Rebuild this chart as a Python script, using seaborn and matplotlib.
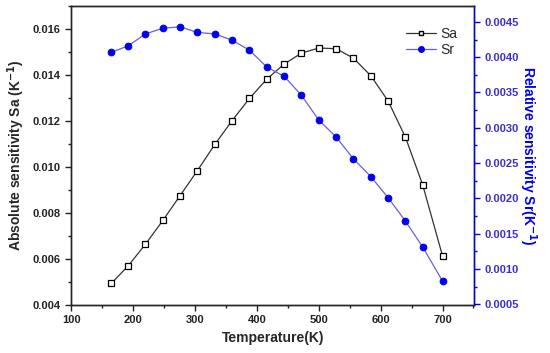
import matplotlib
matplotlib.use("Agg")
import matplotlib.pyplot as plt
import seaborn as sns
import pandas as pd
from matplotlib.ticker import MultipleLocator
from matplotlib.lines import Line2D

temperature = [165, 192, 220, 248, 276, 304, 332, 360, 388, 416,
               444, 472, 500, 528, 556, 584, 612, 640, 668, 700]
sa_values = [0.00494, 0.00570, 0.00664, 0.00767, 0.00875, 0.00984, 0.01097, 0.01201, 0.01297, 0.01381,
             0.01446, 0.01494, 0.01516, 0.01513, 0.01472, 0.01396, 0.01286, 0.01129, 0.00921, 0.00613]
sr_values = [0.00407, 0.00416, 0.00433, 0.00441, 0.00443, 0.00435, 0.00433, 0.00424, 0.00410, 0.00386,
             0.00373, 0.00346, 0.00311, 0.00287, 0.00256, 0.00231, 0.00201, 0.00168, 0.00131, 0.00083]

df = pd.DataFrame({"T": temperature, "Sa": sa_values, "Sr": sr_values})

sns.set_style("ticks")
plt.rcParams['font.family'] = ['Liberation Sans', 'DejaVu Sans']

fig = plt.figure(figsize=(5.5, 3.53), dpi=100)
ax = fig.add_axes([0.1295, 0.136, 0.7325, 0.848])
ax2 = ax.twinx()

blue = "#0000ee"
sr_line = "#6a5fd6"

sns.lineplot(data=df, x="T", y="Sa", ax=ax, color="#333333", lw=0.9,
             marker="s", markersize=4.2, markerfacecolor="white",
             markeredgecolor="black", markeredgewidth=0.9, zorder=3)
sns.lineplot(data=df, x="T", y="Sr", ax=ax2, color=sr_line, lw=0.9,
             marker="o", markersize=4.8, markerfacecolor=blue,
             markeredgecolor=blue, zorder=3)

ax.set_xlim(100, 751)
ax.set_ylim(0.004, 0.017)
ax2.set_ylim(0.00049, 0.00473)

ax.xaxis.set_major_locator(MultipleLocator(100))
ax.xaxis.set_minor_locator(MultipleLocator(50))
ax.yaxis.set_major_locator(MultipleLocator(0.002))
ax.yaxis.set_minor_locator(MultipleLocator(0.001))
ax2.yaxis.set_major_locator(MultipleLocator(0.0005))
ax2.yaxis.set_minor_locator(MultipleLocator(0.00025))

ax.yaxis.set_major_formatter(matplotlib.ticker.FormatStrFormatter('%.3f'))
ax2.yaxis.set_major_formatter(matplotlib.ticker.FormatStrFormatter('%.4f'))

for a in (ax, ax2):
    for s in a.spines.values():
        s.set_linewidth(1.0)
        s.set_color("#222222")
ax2.spines['right'].set_color(blue)

ax.tick_params(axis='both', which='major', direction='out', length=4, width=1,
               labelsize=8, colors="#222222")
ax.tick_params(axis='both', which='minor', direction='out', length=2.5, width=1, colors="#222222")
ax2.tick_params(axis='y', which='major', direction='out', length=4, width=1,
                labelsize=8, colors=blue)
ax2.tick_params(axis='y', which='minor', direction='out', length=2.5, width=1, colors=blue)
for lab in ax.get_xticklabels() + ax.get_yticklabels():
    lab.set_fontweight('bold')
for lab in ax2.get_yticklabels():
    lab.set_fontweight('bold')
    lab.set_color("#3b2fd0")

ax.set_xlabel("Temperature(K)", fontsize=10, fontweight='bold', labelpad=4)
ax.set_ylabel("Absolute sensitivity Sa (K$^{\\mathbf{-1}}$)", fontsize=10, fontweight='bold', labelpad=4)
ax2.set_ylabel("Relative sensitivity Sr(K$^{\\mathbf{-1}}$)", fontsize=10, fontweight='bold',
               color=blue, rotation=270, labelpad=14)

handles = [
    Line2D([], [], color="#333333", lw=0.9, marker="s", markersize=3.2,
           markerfacecolor="white", markeredgecolor="black"),
    Line2D([], [], color=sr_line, lw=0.9, marker="o", markersize=4,
           markerfacecolor=blue, markeredgecolor=blue),
]
ax.legend(handles, ["Sa", "Sr"], loc="upper right", bbox_to_anchor=(0.99, 0.97),
          frameon=False, fontsize=10, handlelength=2.2, handletextpad=0.3,
          labelspacing=0.1)

fig.savefig("out.png", dpi=100)
